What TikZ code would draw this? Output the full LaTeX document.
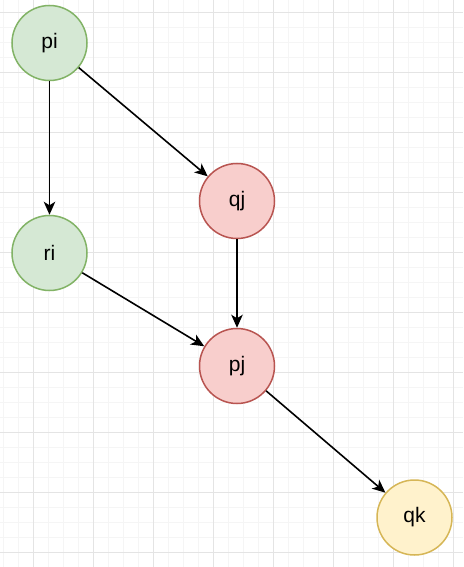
\documentclass[tikz,border=0pt]{standalone}
\usepackage{fontspec}
\setmainfont{Liberation Sans}
\usetikzlibrary{arrows.meta}
\begin{document}
\begin{tikzpicture}[x=1pt,y=-1pt,
  vertex/.style={circle,minimum size=75pt,inner sep=0pt,line width=1.5pt,font=\fontsize{21}{24}\selectfont},
  greenv/.style={vertex,draw={rgb,255:red,130;green,179;blue,102},fill={rgb,255:red,213;green,232;blue,212}},
  redv/.style={vertex,draw={rgb,255:red,184;green,84;blue,80},fill={rgb,255:red,248;green,206;blue,204}},
  yellowv/.style={vertex,draw={rgb,255:red,214;green,182;blue,86},fill={rgb,255:red,255;green,242;blue,204}},
  link/.style={line width=1.6pt,-{Stealth[length=13pt,width=11.5pt,inset=3.5pt]}}]
  % canvas and background grid
  \definecolor{minorgrid}{RGB}{245,245,245}
  \definecolor{majorgrid}{RGB}{228,228,228}
  \fill[white] (0,0) rectangle (463,567);
  \useasboundingbox (0,0) rectangle (463,567);
  \foreach \i in {0,...,30} {
    \draw[minorgrid,line width=1pt] ({3.3+15*\i},0) -- ({3.3+15*\i},567);
  }
  \foreach \i in {0,...,37} {
    \draw[minorgrid,line width=1pt] (0,{12.3+15*\i}) -- (463,{12.3+15*\i});
  }
  \foreach \i in {0,...,7} {
    \draw[majorgrid,line width=1pt] ({33.3+60*\i},0) -- ({33.3+60*\i},567);
  }
  \foreach \i in {0,...,9} {
    \draw[majorgrid,line width=1pt] (0,{12.3+60*\i}) -- (463,{12.3+60*\i});
  }
  % vertices
  \node[greenv] (pi) at (49.5,43) {pi};
  \node[greenv] (ri) at (49.5,253) {ri};
  \node[redv] (qj) at (237,201) {qj};
  \node[redv] (pj) at (237,366) {pj};
  \node[yellowv] (qk) at (414.5,517.5) {qk};
  % edges
  \draw[link] (pi) -- (ri);
  \draw[link] (pi) -- (qj);
  \draw[link] (qj) -- (pj);
  \draw[link] (ri) -- (pj);
  \draw[link] (pj) -- (qk);
\end{tikzpicture}
\end{document}
